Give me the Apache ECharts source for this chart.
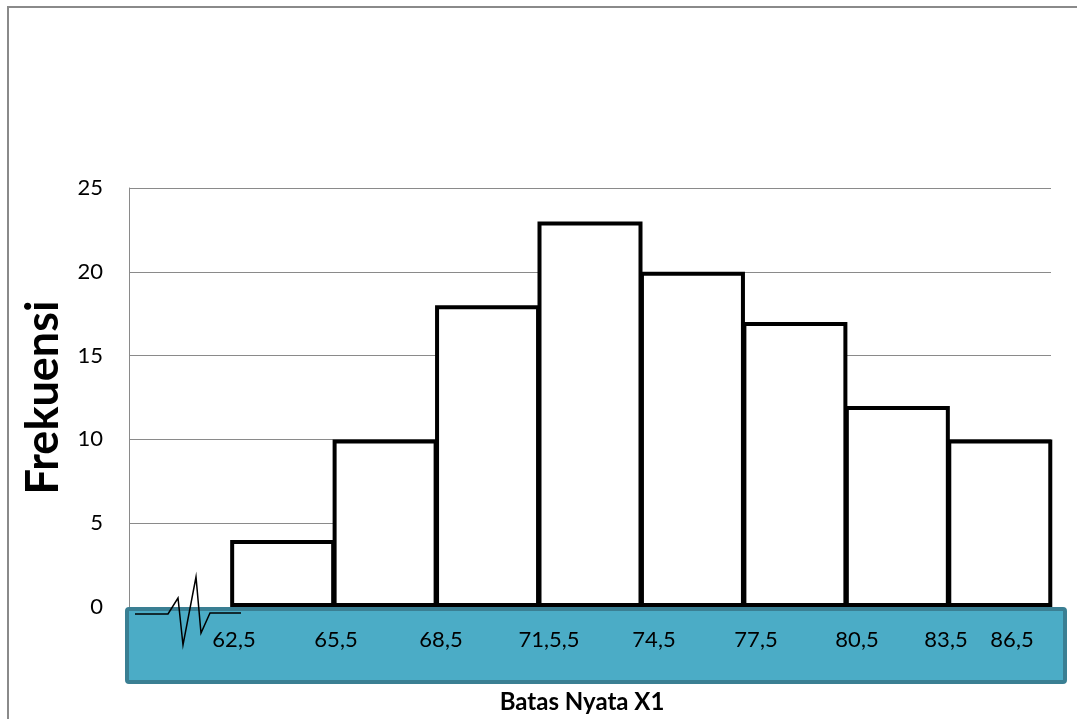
<!DOCTYPE html>
<html>
<head>
<meta charset="utf-8">
<script src="https://cdn.jsdelivr.net/npm/echarts@6/dist/echarts.min.js"></script>
<style>
  html, body { margin: 0; padding: 0; background: #fff; }
  #chart { width: 1077px; height: 719px; }
</style>
</head>
<body>
<div id="chart"></div>
<script>
// class intervals (first slot left empty like the original)
const classes = ['', '62,5-65,5', '65,5-68,5', '68,5-71,5', '71,5-74,5', '74,5-77,5', '77,5-80,5', '80,5-83,5', '83,5-86,5'];
const frekuensi = ['-', 4, 10, 18, 23, 20, 17, 12, 10];
const boundLabels = ['62,5', '65,5', '68,5', '71,5,5', '74,5', '77,5', '80,5', '83,5', '86,5'];
const yTicks = [0, 5, 10, 15, 20, 25];

const chart = echarts.init(document.getElementById('chart'));
const font = 'Lato, "Open Sans", sans-serif';

// where the boundary labels sit inside the teal strip
const labelX = [234, 336, 441, 549, 654, 756, 857, 946, 1012];

const graphics = [
  {
    type: 'rect',
    shape: { x: 8, y: 7, width: 1200, height: 900 },
    style: { fill: 'none', stroke: '#8a8a8a', lineWidth: 2 },
    silent: true
  },
  {
    type: 'rect',
    shape: { x: 127, y: 609, width: 938, height: 73, r: 2 },
    style: { fill: '#4bacc6', stroke: '#3a7f93', lineWidth: 4 },
    z: 1
  },
  {
    type: 'polyline',
    shape: { points: [[135, 614], [168, 614], [178, 598], [183, 645], [196, 577], [201, 633], [210, 613], [241, 613]] },
    style: { stroke: '#000', lineWidth: 1.5, fill: 'none' },
    z: 5
  }
];
boundLabels.forEach((t, i) => {
  graphics.push({
    type: 'text',
    x: labelX[i],
    y: 640,
    style: { text: t, font: '22px ' + font, fill: '#000', textAlign: 'center', textVerticalAlign: 'middle' },
    z: 5
  });
});

const option = {
  animation: false,
  grid: { left: 129, right: 26, top: 188, bottom: 112, outerBoundsMode: 'none' },
  xAxis: {
    type: 'category',
    data: classes,
    axisLine: { show: false },
    axisTick: { show: false },
    axisLabel: { show: false },
    name: 'Batas Nyata X1',
    nameLocation: 'middle',
    nameGap: 83,
    nameTextStyle: { fontFamily: font, fontSize: 24, fontWeight: 'bold', color: '#000', padding: [0, 16, 0, 0] }
  },
  yAxis: {
    type: 'value',
    min: yTicks[0],
    max: yTicks[yTicks.length - 1],
    interval: 5,
    axisLine: { show: true, lineStyle: { color: '#8a8a8a', width: 1 } },
    axisTick: { show: false },
    axisLabel: { color: '#000', fontSize: 22, fontFamily: font, margin: 26 },
    splitLine: { lineStyle: { color: '#8a8a8a', width: 1 } },
    name: 'Frekuensi',
    nameLocation: 'middle',
    nameGap: 63,
    nameTextStyle: { fontFamily: font, fontSize: 45, fontWeight: 'bold', color: '#000' }
  },
  series: [
    {
      type: 'bar',
      data: frekuensi,
      barWidth: 105,
      itemStyle: { color: '#fff', borderColor: '#000', borderWidth: 4 },
      z: 3
    }
  ],
  graphic: graphics
};
chart.setOption(option);
</script>
</body>
</html>
